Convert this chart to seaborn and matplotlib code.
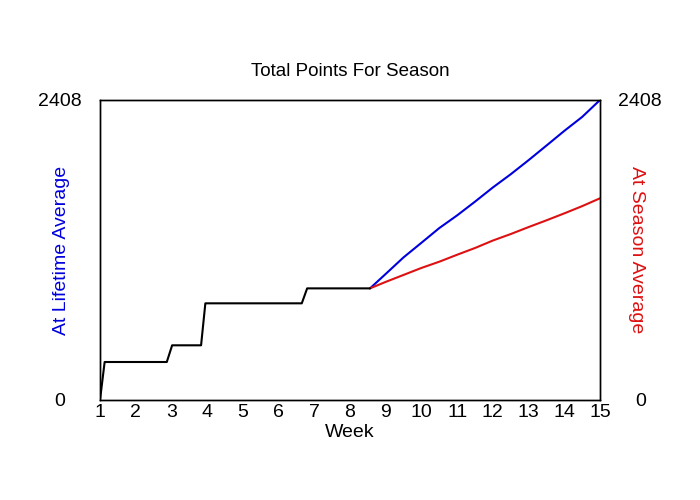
import matplotlib
matplotlib.use("Agg")
import matplotlib.pyplot as plt
import seaborn as sns
import pandas as pd

# weekly running total (actual so far)
actual_weeks = [1.0, 1.13, 2.87, 3.02, 3.83, 3.95, 6.65, 6.80, 8.56]
actual_points = [0, 305, 305, 439, 439, 776, 776, 896, 896]

# projections for the rest of the season
proj_weeks = [8.56, 9.0, 9.5, 10.0, 10.5, 11.0, 11.5, 12.0, 12.5, 13.0, 13.5, 14.0, 14.5, 15.0]
lifetime_points = [896, 1012, 1145, 1262, 1380, 1482, 1592, 1706, 1812, 1925, 2042, 2160, 2272, 2408]
season_points = [896, 948, 1004, 1060, 1110, 1166, 1220, 1280, 1332, 1388, 1442, 1498, 1556, 1619]

week_ticks = list(range(1, 16))
y_max = 2408

blue = '#0000dd'
red = '#dd1111'

sns.set_style("white")
plt.rcParams['font.family'] = ['Liberation Sans', 'DejaVu Sans']
plt.rcParams['text.color'] = 'black'
plt.rcParams['axes.labelcolor'] = 'black'
plt.rcParams['xtick.color'] = 'black'
plt.rcParams['ytick.color'] = 'black'

actual_df = pd.DataFrame({'Week': actual_weeks, 'Points': actual_points})
life_df = pd.DataFrame({'Week': proj_weeks, 'Points': lifetime_points})
season_df = pd.DataFrame({'Week': proj_weeks, 'Points': season_points})

fig, ax = plt.subplots(figsize=(7, 5), dpi=100)
fig.subplots_adjust(left=100/700, right=600/700, bottom=0.2, top=0.8)

sns.lineplot(data=life_df, x='Week', y='Points', color=blue, linewidth=1.5, ax=ax)
sns.lineplot(data=season_df, x='Week', y='Points', color=red, linewidth=1.5, ax=ax)
sns.lineplot(data=actual_df, x='Week', y='Points', color='black', linewidth=1.5, ax=ax)

ax.set_xlim(1, 15)
ax.set_ylim(0, y_max)
ax.set_xticks(week_ticks)
ax.set_yticks([0, y_max])
ax.tick_params(axis='x', length=0, labelsize=14, pad=3)
ax.tick_params(axis='y', length=0, labelsize=14, pad=29)
for lbl in ax.get_yticklabels():
    lbl.set_horizontalalignment('center')
ax.set_xlabel('Week', fontsize=14, labelpad=2)
ax.set_ylabel('At Lifetime Average', fontsize=14, color=blue, va='center')
ax.yaxis.set_label_coords(-0.076, 0.5)
ax.set_title('Total Points For Season', fontsize=13.5, pad=17)

ax2 = ax.twinx()
ax2.set_ylim(0, y_max)
ax2.set_yticks([0, y_max])
ax2.tick_params(length=0, labelsize=14, pad=29)
for lbl in ax2.get_yticklabels():
    lbl.set_horizontalalignment('center')
ax2.set_ylabel('At Season Average', fontsize=14, color=red, rotation=270, va='center')
ax2.yaxis.set_label_coords(1.073, 0.5)

for a in (ax, ax2):
    for s in a.spines.values():
        s.set_color('black')
        s.set_linewidth(1)

fig.savefig('out.png', dpi=100)
